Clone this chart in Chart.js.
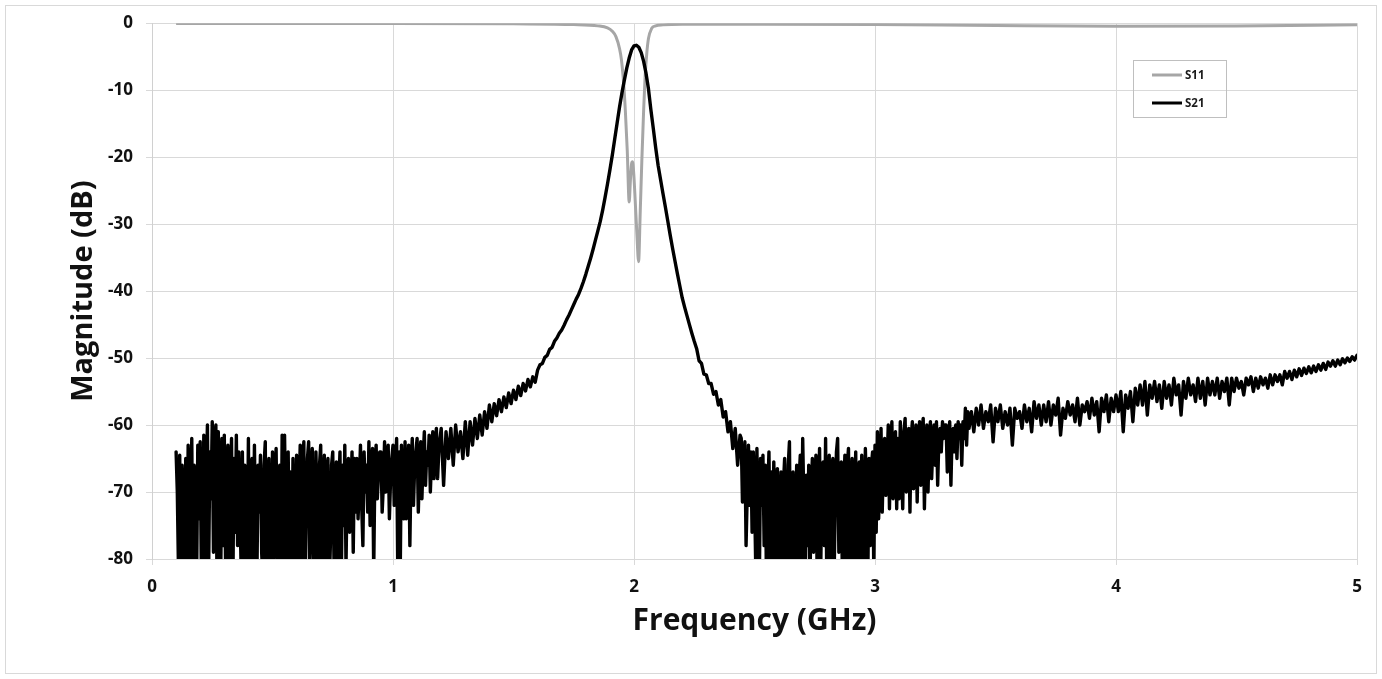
<!DOCTYPE html>
<html>
<head>
<meta charset="utf-8">
<script src="https://cdn.jsdelivr.net/npm/chart.js@4.4.1/dist/chart.umd.min.js"></script>
<style>
  html, body { margin: 0; padding: 0; background: #ffffff; }
  canvas { display: block; }
</style>
</head>
<body>
<canvas id="c" width="1382" height="679"></canvas>
<script>
// ---- data ----
const xTickValues = [0, 1, 2, 3, 4, 5];
const yTickValues = [0, -10, -20, -30, -40, -50, -60, -70, -80];

// S21, low-band noise floor: 0.100 .. 1.195 GHz, every 0.005 GHz
const s21LowStart = 0.100, s21LowStep = 0.005;
const s21LowMag = [
  -64, -70, -82, -64.5, -86, -66, -72, -81, -65, -84,
  -63, -69, -80, -62, -85, -66, -78, -84, -63, -74,
  -62.5, -83, -76, -61.5, -83, -68, -60, -82, -64, -71,
  -59.5, -79, -62, -60, -85, -61, -70, -84, -62, -78,
  -61.5, -80, -66, -63, -84, -70, -62, -87, -65, -76,
  -61.5, -78, -64, -72, -82, -64, -85, -66, -79, -83,
  -62, -85, -68, -65, -81, -63, -77, -84, -66, -73,
  -64.5, -79, -83, -66, -62.5, -86, -70, -65, -84, -78,
  -64, -82, -68, -63.5, -80, -72, -66, -85, -61.5, -83,
  -61.5, -74, -85, -64, -80, -67, -83, -65, -81, -76,
  -64.5, -84, -70, -63, -80, -66, -62.5, -86, -73, -65,
  -62.5, -82, -68, -63.5, -79, -85, -64, -71, -83, -66,
  -63, -84, -70, -64.5, -81, -67, -65, -85, -78, -66,
  -64, -80, -72, -65.5, -83, -69, -64, -86, -66, -75,
  -63, -81, -68, -65, -76, -70, -64, -79, -65, -73,
  -65, -74, -69, -63, -72, -78, -64, -70, -66, -73,
  -62.5, -75, -68, -63.5, -82, -66, -63, -71, -67, -64,
  -64, -73, -69, -62.5, -70, -66, -63, -74, -68, -65,
  -63, -72, -67, -62, -83, -64, -82, -63, -70, -74,
  -62.5, -74, -68, -63, -78, -66, -62, -72, -66, -64,
  -62, -73, -66, -62.5, -71, -65, -61, -69, -64, -66,
  -61.5, -70, -65, -61, -68, -63, -60.5, -68, -64, -62
];

// S21, passband region: 1.20 .. 2.44 GHz, every 0.01 GHz
const s21PassStart = 1.20, s21PassStep = 0.01;
const s21PassMag = [
  -60.5, -69, -61, -65, -60.5, -66, -60, -64, -61, -65,                 // 1.20
  -59.5, -64.5, -59.5, -63, -59, -62, -58.5, -61.5, -58, -60.5,         // 1.30
  -57, -59.5, -56.8, -58.6, -56.2, -58, -55.8, -57.4, -55.2, -56.8,     // 1.40
  -54.8, -56.2, -54.2, -55.6, -53.8, -54.9, -53.2, -54.3, -52.8, -53.6, // 1.50
  -51.8, -51.0, -50.8, -49.9, -49.6, -48.7, -48.4, -47.5, -47.0, -46.3, // 1.60
  -45.8, -45.1, -44.3, -43.6, -42.8, -42.0, -41.2, -40.5, -39.6, -38.6, // 1.70
  -37.5, -36.3, -35.1, -33.8, -32.4, -31.0, -29.6, -27.9, -26.0, -24.0, // 1.80
  -21.9, -19.7, -17.3, -14.9, -12.5, -10.4, -8.5, -6.7, -5.2, -4.0,     // 1.90
  -3.4, -3.3, -3.6, -4.4, -5.7, -7.5, -9.8, -12.9, -15.7, -18.6,        // 2.00
  -21.2, -23.3, -25.4, -27.4, -29.5, -31.6, -33.6, -35.5, -37.4, -39.2, // 2.10
  -41.0, -42.4, -43.7, -45.0, -46.3, -47.5, -48.6, -50.4, -50.8, -52.4, // 2.20
  -52.5, -53.8, -53.8, -55.4, -55, -57, -56.2, -58.8, -58, -61,         // 2.30
  -59.5, -63.5, -60.5, -66, -61.5                                       // 2.40
];

// S21, upper noise floor: 2.445 .. 3.390 GHz, every 0.005 GHz
const s21HighStart = 2.445, s21HighStep = 0.005;
const s21HighMag = [
  -62, -71.5, -66, -62.5, -78, -70, -63, -72, -64, -76,
  -64, -70, -81, -63.5, -76, -84, -65, -72, -64.5, -78,
  -66, -85, -70, -64, -80, -67, -83, -65.5, -74, -82,
  -66.5, -80, -72, -67, -86, -69, -65, -79, -84, -66,
  -62.5, -83, -70, -67, -81, -75, -66, -84, -68, -64.5,
  -80, -62, -72, -85, -67.5, -78, -66, -85, -70, -65,
  -79, -68, -64.5, -83, -71, -63.5, -81, -68, -65.5, -78,
  -62, -84, -70, -64.5, -80, -67, -65, -83, -72, -64,
  -62, -79, -68, -65.5, -85, -70, -64.5, -82, -66, -63.5,
  -84, -69, -65, -80, -72, -64, -86, -67, -65.5, -82,
  -64.5, -75, -83, -63.5, -70, -84, -65, -78, -66, -64,
  -82, -63, -76, -61, -74, -68, -60.5, -73, -65, -62,
  -70.5, -66, -60, -72.5, -64, -59.5, -71, -63, -61, -72.5,
  -62, -71, -59.5, -66, -72.5, -61, -59, -70, -64, -60.5,
  -73, -62, -59.5, -69.5, -65, -60, -71.5, -63, -59.5, -69,
  -61, -59, -72.5, -64, -60, -70, -62, -59.5, -68, -63,
  -60, -66, -59.5, -69, -62, -60.5, -64, -59.5, -62, -60,
  -60, -67, -62, -59.5, -69, -61, -60.5, -64, -60, -65,
  -59.5, -62, -60, -66, -59.5, -62, -57.5, -63, -58, -60.5
];

// S21, upper band: 3.40 .. 5.00 GHz, every 0.01 GHz
const s21UpperStart = 3.40, s21UpperStep = 0.01;
const s21UpperMag = [
  -58, -61, -57.5, -60, -57, -60.5, -58, -59.5, -57, -62.5,             // 3.40
  -57.5, -59.5, -57, -60.5, -58, -60, -57.5, -63, -57.5, -59,           // 3.50
  -58, -60.5, -57, -59.5, -57.5, -61, -56.5, -59, -57, -60,             // 3.60
  -57, -59.5, -56.5, -60, -57, -58.5, -56, -61.5, -57.5, -59,           // 3.70
  -56.5, -58.5, -57, -59.5, -56, -60, -57, -58, -56.5, -59,             // 3.80
  -56, -58.5, -56.5, -61, -56, -58, -55.5, -59.5, -56, -58,             // 3.90
  -55.5, -58, -55, -61, -55.5, -57.5, -55, -59.5, -54.5, -57,           // 4.00
  -54, -57, -53.5, -58.5, -54, -56, -53.5, -56.5, -54, -57.5,           // 4.10
  -53.5, -56, -54, -57, -53, -55.5, -54, -58.5, -53.5, -56,             // 4.20
  -53, -55.5, -54, -56.5, -53, -56, -53.5, -57, -53, -55.5,             // 4.30
  -53.5, -55.5, -53, -56, -53.5, -55, -53, -57, -53, -55,               // 4.40
  -53, -54.5, -53.5, -55.5, -53, -54, -52.8, -55, -53, -54.5,           // 4.50
  -52.8, -54, -53, -54.5, -52.5, -54, -52.5, -53.5, -52.5, -54,         // 4.60
  -52, -53, -52, -53.2, -51.8, -52.8, -51.6, -52.6, -51.5, -52.3,       // 4.70
  -51.3, -52.2, -51.2, -52, -51, -51.8, -50.8, -51.7, -50.6, -51.2,     // 4.80
  -50.4, -51.2, -50.3, -51, -50.1, -50.7, -50, -50.5, -49.8, -50.3,     // 4.90
  -49.6                                                                 // 5.00
];

const s11Freq = [0.10, 1.00, 1.50, 1.75, 1.85, 1.89, 1.91, 1.925, 1.94, 1.948, 1.956, 1.964, 1.972, 1.980,
  1.985, 1.990, 1.994, 1.999, 2.005, 2.012, 2.019, 2.026, 2.033, 2.040, 2.046, 2.053, 2.060, 2.073,
  2.09, 2.12, 2.20, 2.50, 3.00, 3.50, 4.00, 4.50, 5.00];
const s11Mag = [-0.05, -0.05, -0.1, -0.2, -0.4, -0.7, -1.2, -2.0, -3.8, -5.5, -8.5, -13, -19, -26.7,
  -23.5, -21, -20.7, -22.5, -26.5, -31.5, -35.6, -28, -20, -13, -8, -4.5, -2.3, -0.8,
  -0.4, -0.25, -0.15, -0.15, -0.2, -0.35, -0.45, -0.4, -0.25];

const seriesNames = ['S11', 'S21'];
const seriesColors = ['#a6a6a6', '#000000'];

// ---- build library data from the arrays ----
function sweepPoints(start, step, values) {
  return values.map((v, i) => ({ x: +(start + i * step).toFixed(3), y: v }));
}
const s21Points = [].concat(
  sweepPoints(s21LowStart, s21LowStep, s21LowMag),
  sweepPoints(s21PassStart, s21PassStep, s21PassMag),
  sweepPoints(s21HighStart, s21HighStep, s21HighMag),
  sweepPoints(s21UpperStart, s21UpperStep, s21UpperMag)
);
const s11Points = s11Freq.map((f, i) => ({ x: f, y: s11Mag[i] }));

const frameAndLegend = {
  id: 'frameAndLegend',
  afterDraw(chart) {
    const ctx = chart.ctx;
    ctx.save();
    // outer frame
    ctx.strokeStyle = '#d9d9d9';
    ctx.lineWidth = 1;
    ctx.strokeRect(5.5, 5.5, 1371, 668);
    // legend box
    ctx.strokeStyle = '#bfbfbf';
    ctx.strokeRect(1133.5, 60.5, 93, 57);
    const rows = [75, 103];
    chart.data.datasets.forEach((ds, i) => {
      const y = rows[i];
      ctx.strokeStyle = ds.borderColor;
      ctx.lineWidth = 3;
      ctx.beginPath();
      ctx.moveTo(1152, y);
      ctx.lineTo(1182, y);
      ctx.stroke();
      ctx.fillStyle = '#1a1a1a';
      ctx.font = 'bold 11.5px "Open Sans"';
      ctx.textBaseline = 'middle';
      ctx.textAlign = 'left';
      ctx.fillText(ds.label, 1185, y + 0.5);
    });
    ctx.restore();
  }
};

new Chart(document.getElementById('c'), {
  type: 'scatter',
  data: {
    datasets: [
      {
        label: seriesNames[0],
        data: s11Points,
        showLine: true,
        borderColor: seriesColors[0],
        backgroundColor: seriesColors[0],
        borderWidth: 3,
        pointRadius: 0,
        cubicInterpolationMode: 'monotone',
        order: 2
      },
      {
        label: seriesNames[1],
        data: s21Points,
        showLine: true,
        borderColor: seriesColors[1],
        backgroundColor: seriesColors[1],
        borderWidth: 3.4,
        pointRadius: 0,
        tension: 0,
        borderJoinStyle: 'round',
        borderCapStyle: 'round',
        order: 1
      }
    ]
  },
  options: {
    responsive: false,
    animation: false,
    devicePixelRatio: 1,
    layout: { padding: { left: 0, top: 23, right: 25, bottom: 0 } },
    plugins: {
      legend: { display: false },
      tooltip: { enabled: false }
    },
    scales: {
      x: {
        type: 'linear',
        min: 0,
        max: 5,
        afterFit: s => { s.height = 120; },
        afterBuildTicks: s => { s.ticks = xTickValues.map(v => ({ value: v })); },
        grid: { color: '#d9d9d9', lineWidth: 1, tickLength: 6, drawTicks: true },
        border: { display: true, color: '#d9d9d9' },
        ticks: {
          color: '#111111',
          font: { family: '"Open Sans"', size: 17, weight: 'bold' },
          padding: 12,
          maxRotation: 0
        },
        title: {
          display: true,
          text: 'Frequency (GHz)',
          color: '#111111',
          font: { family: '"Open Sans"', size: 30, weight: 'bold' },
          padding: { top: 0, bottom: 40 }
        }
      },
      y: {
        type: 'linear',
        min: -80,
        max: 0,
        afterFit: s => { s.width = 152; },
        afterBuildTicks: s => { s.ticks = yTickValues.map(v => ({ value: v })); },
        grid: { color: '#d9d9d9', lineWidth: 1, tickLength: 6, drawTicks: true },
        border: { display: true, color: '#d0d0d0' },
        ticks: {
          color: '#111111',
          font: { family: '"Open Sans"', size: 17, weight: 'bold' },
          padding: 13
        },
        title: {
          display: true,
          text: 'Magnitude (dB)',
          color: '#111111',
          font: { family: '"Open Sans"', size: 29, weight: 'bold' },
          padding: { top: 66, bottom: 0 }
        }
      }
    }
  },
  plugins: [frameAndLegend]
});
</script>
</body>
</html>
